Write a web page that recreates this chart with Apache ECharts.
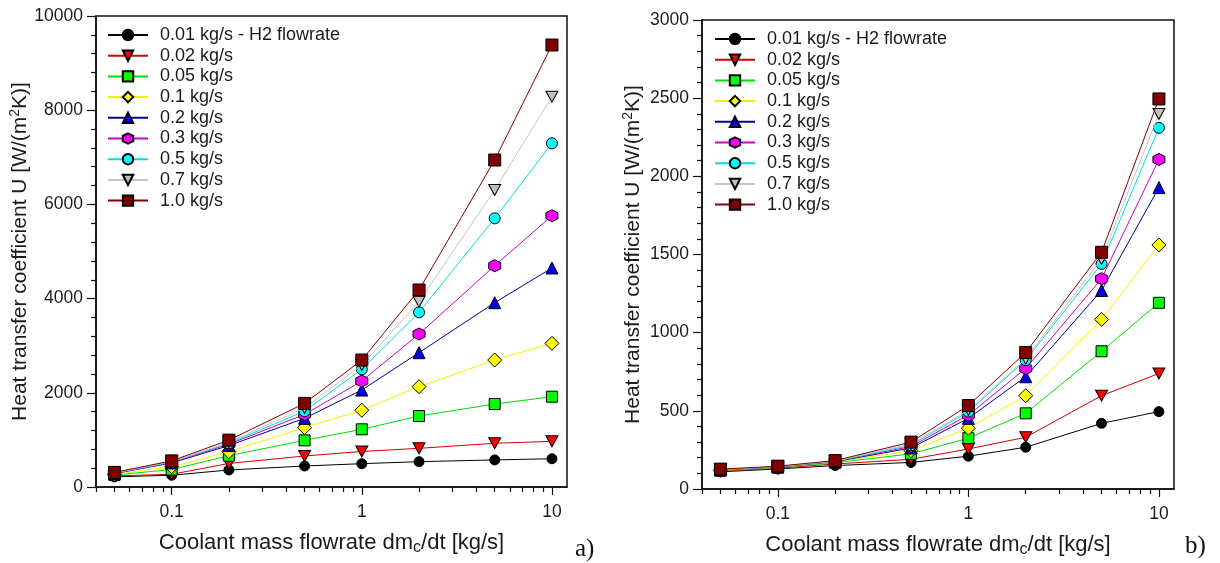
<!DOCTYPE html>
<html>
<head>
<meta charset="utf-8">
<title>Heat transfer coefficient vs coolant mass flowrate</title>
<script src="https://cdn.jsdelivr.net/npm/echarts@6/dist/echarts.min.js"></script>
<style>
  html, body { margin: 0; padding: 0; background: #ffffff; }
  #chart { width: 1220px; height: 563px; }
</style>
</head>
<body>
<div id="chart"></div>
<script>
// Coolant mass flowrate dm_c/dt [kg/s] (x positions, log scale)
const coolantFlow = [0.05, 0.1, 0.2, 0.5, 1, 2, 5, 10];

// H2 flowrate labels (one curve each)
const seriesNames = ['0.01 kg/s - H2 flowrate', '0.02 kg/s', '0.05 kg/s', '0.1 kg/s',
  '0.2 kg/s', '0.3 kg/s', '0.5 kg/s', '0.7 kg/s', '1.0 kg/s'];

// Panel a) heat transfer coefficient U [W/(m2K)]
const uA_001 = [215, 250, 361, 446, 495, 538, 575, 600];
const uA_002 = [235, 270, 500, 658, 755, 821, 928, 970];
const uA_005 = [255, 370, 665, 990, 1225, 1507, 1762, 1917];
const uA_01  = [270, 430, 750, 1260, 1630, 2130, 2696, 3050];
const uA_02  = [285, 510, 880, 1458, 2059, 2852, 3913, 4650];
const uA_03  = [290, 520, 910, 1540, 2250, 3248, 4698, 5760];
const uA_05  = [295, 530, 930, 1610, 2499, 3709, 5704, 7297];
const uA_07  = [300, 540, 950, 1680, 2590, 3935, 6306, 8287];
const uA_10  = [310, 555, 995, 1775, 2696, 4183, 6943, 9384];

// Panel b) heat transfer coefficient U [W/(m2K)]
const uB_001 = [110, 128, 150, 170, 210, 267, 420, 495];
const uB_002 = [115, 133, 160, 190, 256, 331, 597, 739];
const uB_005 = [118, 137, 168, 225, 325, 484, 881, 1191];
const uB_01  = [120, 140, 172, 245, 389, 597, 1085, 1561];
const uB_02  = [122, 141, 175, 262, 452, 718, 1270, 1928];
const uB_03  = [123, 142, 177, 272, 473, 771, 1345, 2108];
const uB_05  = [124, 143, 178, 280, 495, 824, 1440, 2310];
const uB_07  = [125, 144, 179, 288, 505, 834, 1471, 2399];
const uB_10  = [127, 146, 182, 300, 534, 873, 1514, 2495];

// Axis ticks
const xMajorTicks = [0.1, 1, 10];
const xMinorTicks = [0.04, 0.05, 0.06, 0.07, 0.08, 0.09,
  0.2, 0.3, 0.4, 0.5, 0.6, 0.7, 0.8, 0.9,
  2, 3, 4, 5, 6, 7, 8, 9];

const panelA = [uA_001, uA_002, uA_005, uA_01, uA_02, uA_03, uA_05, uA_07, uA_10];
const panelB = [uB_001, uB_002, uB_005, uB_01, uB_02, uB_03, uB_05, uB_07, uB_10];

const FONT = '"Liberation Sans", Arial, sans-serif';
const TEXT = '#1b1b1b';

const INV_TRI = 'path://M0,0L10,0L5,9Z';
const HEXAGON = 'path://M5,0L9.33,2.5L9.33,7.5L5,10L0.67,7.5L0.67,2.5Z';

// marker + line style for each curve
const styles = [
  { symbol: 'circle',  size: 10,       fill: '#000000', line: '#000000' },
  { symbol: INV_TRI,   size: [12, 11], fill: '#ff0000', line: '#d40000' },
  { symbol: 'rect',    size: 11,       fill: '#00ff00', line: '#00dd00' },
  { symbol: 'diamond', size: 14,       fill: '#ffff00', line: '#f2f200' },
  { symbol: 'triangle',size: 12,       fill: '#0000ee', line: '#0000a0' },
  { symbol: HEXAGON,   size: 12,       fill: '#ff00ff', line: '#cc00cc' },
  { symbol: 'circle',  size: 11,       fill: '#00ffff', line: '#00dede' },
  { symbol: INV_TRI,   size: [12, 11], fill: '#c0c0c0', line: '#c4c4c4' },
  { symbol: 'rect',    size: 12,       fill: '#800000', line: '#800000' }
];

function makeSeries(values, idx, axisIdx) {
  const s = styles[idx];
  return {
    type: 'line',
    name: seriesNames[idx],
    xAxisIndex: axisIdx * 2,
    yAxisIndex: axisIdx,
    data: coolantFlow.map((x, i) => [x, values[i]]),
    symbol: s.symbol,
    symbolSize: s.size,
    itemStyle: { color: s.fill, borderColor: '#000000', borderWidth: 1 },
    lineStyle: { color: s.line, width: 1 },
    emphasis: { disabled: true },
    z: 2 + idx
  };
}

function majorX(gridIndex) {
  return {
    type: 'log', gridIndex, min: 0.04, max: 12, position: 'bottom',
    name: 'Coolant mass flowrate dm{sub|c}/dt [kg/s]',
    nameLocation: 'middle', nameGap: 43,
    nameTextStyle: { fontFamily: FONT, fontSize: 22, color: TEXT,
      rich: { sub: { fontFamily: FONT, fontSize: 16, color: TEXT, padding: [10, 0, 0, 0] } } },
    axisLine: { show: true, lineStyle: { color: '#111', width: 1.5 } },
    axisTick: { show: true, length: 8, customValues: xMajorTicks, lineStyle: { color: '#111', width: 1.2 } },
    axisLabel: { show: true, customValues: xMajorTicks, margin: 16, fontFamily: FONT, fontSize: 17.5, color: TEXT,
      formatter: v => String(+v.toPrecision(3)) },
    splitLine: { show: false }, minorTick: { show: false }, minorSplitLine: { show: false }
  };
}
function minorX(gridIndex) {
  return {
    type: 'log', gridIndex, min: 0.04, max: 12, position: 'bottom',
    axisLine: { show: false },
    axisTick: { show: true, length: 5, customValues: xMinorTicks, lineStyle: { color: '#111', width: 1.2 } },
    axisLabel: { show: false },
    splitLine: { show: false }
  };
}
function valueY(gridIndex, max, interval) {
  return {
    type: 'value', gridIndex, min: 0, max, interval,
    name: 'Heat transfer coefficient U [W/(m{sup|2}K)]',
    nameLocation: 'middle', nameGap: 57,
    nameTextStyle: { fontFamily: FONT, fontSize: 21, color: TEXT,
      rich: { sup: { fontFamily: FONT, fontSize: 14, color: TEXT, padding: [0, 0, 10, 0] } } },
    axisLine: { show: true, lineStyle: { color: '#111', width: 1.5 } },
    axisTick: { show: true, length: 9, lineStyle: { color: '#111', width: 1.2 } },
    minorTick: { show: true, splitNumber: 5, length: 5, lineStyle: { color: '#111', width: 1.2 } },
    axisLabel: { margin: 13, fontFamily: FONT, fontSize: 17.5, color: TEXT, formatter: v => String(v) },
    splitLine: { show: false }
  };
}
function legendAt(left, top) {
  return {
    orient: 'vertical', left, top,
    data: seriesNames,
    itemWidth: 40, itemHeight: 13, itemGap: 2.7,
    selectedMode: false,
    textStyle: { fontFamily: FONT, fontSize: 18, color: TEXT, padding: [0, 0, 0, 7] }
  };
}

const series = [];
panelA.forEach((v, i) => series.push(makeSeries(v, i, 0)));
panelB.forEach((v, i) => series.push(makeSeries(v, i, 1)));

const option = {
  animation: false,
  backgroundColor: '#ffffff',
  grid: [
    { left: 96, top: 16, width: 471, height: 471, show: true, borderColor: '#111', borderWidth: 1.5, backgroundColor: 'transparent' },
    { left: 702, top: 20, width: 472, height: 471, show: true, borderColor: '#111', borderWidth: 1.5, backgroundColor: 'transparent' }
  ],
  xAxis: [majorX(0), minorX(0), majorX(1), minorX(1)],
  yAxis: [valueY(0, 10000, 2000), valueY(1, 3000, 500)],
  legend: [legendAt(102, 21), legendAt(709, 25)],
  graphic: [
    { type: 'text', left: 575, top: 537, style: { text: 'a)', font: '25px "Liberation Serif", "DejaVu Serif", serif', fill: '#111' } },
    { type: 'text', left: 1185, top: 534, style: { text: 'b)', font: '25px "Liberation Serif", "DejaVu Serif", serif', fill: '#111' } }
  ],
  series
};

const chart = echarts.init(document.getElementById('chart'), null, { renderer: 'canvas' });
chart.setOption(option);
</script>
</body>
</html>
